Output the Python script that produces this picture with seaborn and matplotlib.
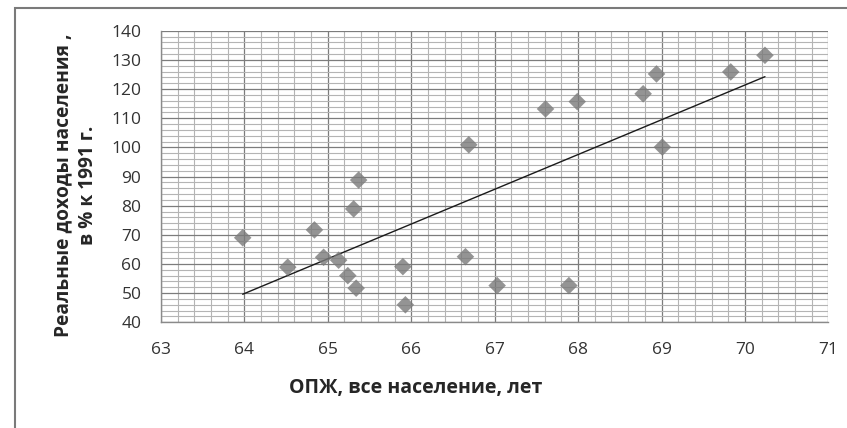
import numpy as np
import pandas as pd
import matplotlib
matplotlib.use('Agg')
import matplotlib.pyplot as plt
import seaborn as sns
from matplotlib.ticker import MultipleLocator
from matplotlib.patches import Rectangle

life_exp = [63.98, 64.52, 64.84, 64.95, 65.13, 65.24, 65.34, 65.31, 65.37, 65.90, 65.93,
            66.65, 67.03, 67.89, 66.69, 67.61, 67.99, 68.78, 68.94, 69.01, 69.83, 70.24]
income = [69.0, 58.9, 71.7, 62.3, 61.3, 56.0, 51.7, 78.9, 88.8, 59.1, 46.0,
          62.5, 52.6, 52.6, 100.9, 113.2, 115.7, 118.4, 125.2, 100.1, 125.9, 131.6]

df = pd.DataFrame({'x': life_exp, 'y': income})

sns.set_style('white')
plt.rcParams['font.family'] = ['Open Sans', 'DejaVu Sans']

fig = plt.figure(figsize=(8.47, 4.28), dpi=100)
ax = fig.add_axes([0.190, 0.247, 0.788, 0.681])

# grid
ax.xaxis.set_major_locator(MultipleLocator(1))
ax.xaxis.set_minor_locator(MultipleLocator(0.2))
ax.yaxis.set_major_locator(MultipleLocator(10))
ax.yaxis.set_minor_locator(MultipleLocator(2))
ax.grid(which='minor', color='#b4b4b4', linewidth=0.8)
ax.grid(which='major', color='#7c7c7c', linewidth=0.9)
ax.set_axisbelow(True)

sns.regplot(data=df, x='x', y='y', ax=ax, ci=None, truncate=True,
            marker='D',
            scatter_kws={'s': 80, 'color': '#7a7a7a', 'edgecolors': 'none', 'zorder': 3},
            line_kws={'color': '#1a1a1a', 'linewidth': 1.0, 'zorder': 2})

ax.set_xlim(63, 71)
ax.set_ylim(40, 140)

for s in ['top', 'right']:
    ax.spines[s].set_visible(False)
for s in ['left', 'bottom']:
    ax.spines[s].set_color('#8a8a8a')
    ax.spines[s].set_linewidth(1.0)

ax.tick_params(which='major', direction='out', length=5, width=0.8, color='#8a8a8a',
               labelsize=12.5, labelcolor='#333333')
ax.tick_params(axis='y', which='major', pad=9)
ax.tick_params(axis='x', which='major', pad=9)
ax.tick_params(which='minor', length=0)

ax.set_xlabel('ОПЖ, все население, лет', fontsize=14, fontweight='bold')
ax.set_ylabel('Реальные доходы населения ,\nв % к 1991 г.', fontsize=13.8, fontweight='bold',
              linespacing=1.3)
ax.xaxis.label.set_va('center')
ax.yaxis.label.set_va('center')
ax.xaxis.set_label_coords(0.382, -0.225)
ax.yaxis.set_label_coords(-0.128, 0.47)

# chart area border like the spreadsheet export
fig.patches.append(Rectangle((15 / 847, -0.1), 1.2, 1 - 8 / 428 + 0.1, transform=fig.transFigure,
                             fill=False, edgecolor='#7a7a7a', linewidth=1.5))

fig.savefig('out.png', dpi=100)
